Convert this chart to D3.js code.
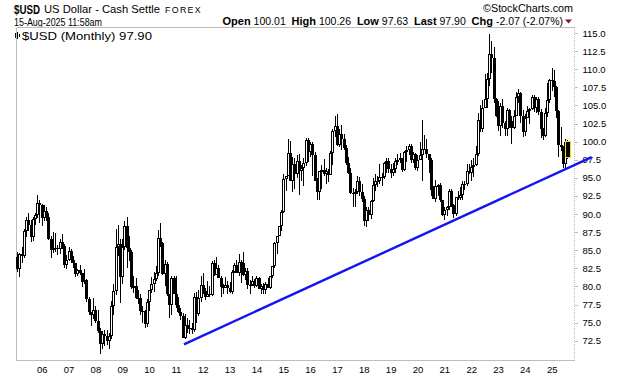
<!DOCTYPE html>
<html><head><meta charset="utf-8">
<script src="https://cdn.jsdelivr.net/npm/d3@7"></script>
<style>
html,body{margin:0;padding:0;background:#fff;}
svg{display:block;}
text{font-family:"Liberation Sans",Arial,sans-serif;fill:#000;}
</style></head>
<body>
<svg id="chart" width="620" height="376"></svg>
<script>
// Monthly $USD candles, first bar = Feb 2005, last bar = Aug 2025
const startYear = 2005, startMonth = 1; // 0-based month (Feb)
const opens = [
 84.0,82.4,84.5,84.2,87.7,89.2,88.5,86.8,89.3,89.8,91.5,
 91.2,89.4,90.4,89.6,86.6,85.0,85.3,85.3,85.2,86.1,85.6,82.9,
 83.7,84.9,83.7,83.2,81.7,82.3,81.9,80.6,80.9,78.2,76.4,76.0,
 76.7,75.2,73.8,72.0,73.4,73.1,72.5,73.2,77.3,79.4,85.4,85.9,
 81.3,85.4,88.3,85.3,84.8,79.9,80.1,78.4,78.4,76.6,76.6,74.8,
 77.9,79.5,80.3,81.0,81.9,86.7,86.0,81.7,83.1,78.9,77.5,81.2,
 79.0,77.4,76.5,75.9,72.9,74.6,74.3,74.2,74.0,78.6,76.2,78.4,
 80.2,79.3,78.6,79.0,78.8,83.2,81.6,82.6,81.2,79.9,79.8,80.2,
 79.8,79.2,82.0,82.9,81.9,83.4,83.2,81.6,82.1,80.2,80.2,80.7,
 80.0,81.2,79.7,80.1,79.5,80.4,79.8,81.5,82.8,86.0,86.9,88.4,
 90.3,94.8,95.3,98.4,94.6,96.9,95.5,97.3,95.9,96.3,97.0,100.2,
 98.6,99.6,98.2,94.6,93.1,95.9,96.1,95.5,96.0,95.4,98.4,101.5,
 102.2,99.5,101.1,100.4,99.1,97.0,95.6,92.9,92.7,93.1,94.5,93.0,
 92.1,89.1,90.6,89.9,91.8,94.0,94.5,94.5,95.1,95.1,97.1,97.3,
 96.2,95.6,96.2,97.3,97.5,97.8,96.1,98.5,98.9,99.4,97.4,98.3,
 96.4,97.4,98.1,99.0,99.0,98.3,97.4,93.3,92.1,93.9,94.0,91.9,
 89.9,90.6,90.9,93.2,91.3,90.0,92.4,92.2,92.6,94.2,94.1,96.0,
 95.7,96.5,96.7,98.3,103.0,101.8,104.7,105.9,108.7,112.1,111.5,105.9,
 103.5,102.1,104.9,102.5,101.7,104.3,102.9,101.9,103.6,106.2,106.7,103.5,
 101.3,103.3,104.2,104.5,106.2,104.6,105.9,104.1,101.7,100.8,104.0,105.7,
 108.5,108.4,107.6,104.2,99.5,99.3,96.9,100.01];
const highs = [
 84.7,84.6,85.5,87.9,89.6,90.2,89.2,89.6,90.2,92.6,92.0,
 91.4,91.3,91.0,90.2,86.9,87.5,87.4,85.7,86.6,87.3,85.9,84.4,
 85.4,85.1,84.2,83.3,82.4,83.0,81.9,82.4,81.0,78.5,76.5,78.4,
 77.3,76.8,74.2,73.8,74.0,74.0,73.5,78.0,80.4,87.9,88.5,86.5,
 86.5,89.0,89.6,86.9,85.0,81.5,81.1,79.5,78.9,77.3,76.8,78.3,
 79.5,81.3,82.0,82.8,87.8,88.7,86.2,83.7,83.4,78.9,81.5,81.4,
 81.4,78.5,77.0,76.3,76.2,75.7,75.4,75.0,79.1,79.2,79.5,81.5,
 81.8,79.8,80.7,80.0,83.5,83.6,84.1,83.0,81.5,80.4,81.3,80.8,
 80.6,82.2,83.2,83.6,84.5,83.6,84.8,82.6,82.5,80.9,81.5,81.0,
 81.5,81.3,80.4,80.5,80.6,81.1,81.5,82.8,86.1,87.0,88.4,90.5,
 95.5,95.3,100.4,100.1,97.9,97.8,98.1,98.3,96.8,97.8,100.5,100.5,
 99.9,99.9,98.6,95.0,95.9,96.7,97.6,96.3,96.2,98.7,101.8,103.6,
 103.8,101.8,102.3,101.1,99.5,97.9,96.3,93.6,93.5,95.2,95.1,94.2,
 92.5,91.0,90.9,91.9,95.0,95.5,95.2,96.9,95.7,97.2,97.7,97.7,
 96.9,97.0,97.7,98.3,98.4,97.8,98.7,99.4,99.7,99.7,98.5,98.4,
 98.2,99.9,103.0,100.9,100.4,98.3,97.8,93.9,94.7,94.1,94.3,91.9,
 91.0,91.1,93.4,93.4,91.4,92.4,93.2,93.7,94.5,94.5,96.9,96.9,
 97.4,97.8,99.4,103.9,105.0,105.8,109.3,109.5,114.8,113.9,113.1,106.0,
 105.6,105.4,105.9,102.8,104.7,104.5,103.6,104.4,106.8,107.3,106.9,104.3,
 103.8,104.9,104.7,106.5,106.5,106.1,106.1,104.5,101.9,104.6,108.1,108.6,
 110.2,109.9,107.7,104.4,102.0,99.4,100.3,100.26];
const lows = [
 82.0,81.3,83.3,83.9,86.8,87.7,86.2,86.3,88.5,89.4,88.8,
 88.3,89.1,89.1,86.4,83.9,84.6,84.8,84.4,84.5,85.2,82.6,82.4,
 83.5,83.3,82.6,81.3,81.4,81.6,79.9,80.3,77.9,76.1,74.5,75.5,
 75.0,73.6,70.7,71.3,71.7,71.9,71.3,72.7,76.0,78.8,84.2,77.7,
 80.3,85.0,82.6,83.5,79.6,79.1,78.2,77.6,76.0,74.9,74.2,74.4,
 76.6,79.1,79.2,80.8,81.5,85.4,81.6,80.1,78.7,75.6,76.1,78.9,
 77.0,76.3,75.3,72.9,72.7,73.6,73.4,73.4,73.7,74.9,75.9,77.9,
 78.9,78.1,78.5,78.6,78.7,81.4,81.6,81.2,78.6,78.9,79.8,79.0,
 79.1,78.9,81.8,81.8,81.5,80.5,81.4,80.9,79.6,79.0,80.1,79.8,
 79.9,79.7,79.0,78.9,78.9,79.8,79.7,81.2,82.6,84.5,86.9,87.6,
 90.1,93.2,95.2,94.5,93.1,93.5,95.0,92.6,94.5,93.8,96.6,97.2,
 97.9,95.2,94.6,91.9,91.9,93.4,95.3,94.1,94.4,95.4,96.7,100.6,
 99.4,99.2,98.9,98.8,96.8,95.5,92.8,91.0,91.0,92.8,92.5,91.7,
 88.4,88.25,89.0,89.3,91.7,93.2,93.7,94.1,93.8,94.8,95.7,95.7,
 95.0,95.2,95.7,96.8,97.0,95.8,95.9,97.2,98.1,97.1,97.1,96.1,
 96.0,97.4,94.6,98.8,97.8,95.7,92.5,92.1,91.7,92.5,91.7,89.7,
 89.2,89.7,90.6,90.9,89.5,89.7,91.9,92.0,91.9,93.3,93.9,95.5,
 94.6,95.1,96.6,98.0,101.3,101.3,104.7,104.6,107.7,109.5,105.3,103.4,
 101.5,100.8,101.9,100.8,100.8,101.9,99.6,101.7,103.6,105.4,102.5,100.6,
 100.8,103.2,102.4,104.4,104.1,104.0,103.7,100.5,100.2,100.6,103.4,105.4,
 107.0,106.1,103.2,97.9,98.7,96.4,96.4,97.63];
const closes = [
 82.4,84.5,84.2,87.7,89.2,88.5,86.8,89.3,89.8,91.5,91.2,
 89.4,90.4,89.6,86.6,85.0,85.3,85.3,85.2,86.1,85.6,82.9,83.7,
 84.9,83.7,83.2,81.7,82.3,81.9,80.6,80.9,78.2,76.4,76.0,76.7,
 75.2,73.8,72.0,73.4,73.1,72.5,73.2,77.3,79.4,85.4,85.9,81.3,
 85.4,88.3,85.3,84.8,79.9,80.1,78.4,78.4,76.6,76.6,74.8,77.9,
 79.5,80.3,81.0,81.9,86.7,86.0,81.7,83.1,78.9,77.5,81.2,79.0,
 77.4,76.5,75.9,72.9,74.6,74.3,74.2,74.0,78.6,76.2,78.4,80.2,
 79.3,78.6,79.0,78.8,83.2,81.6,82.6,81.2,79.9,79.8,80.2,79.8,
 79.2,82.0,82.9,81.9,83.4,83.2,81.6,82.1,80.2,80.2,80.7,80.0,
 81.2,79.7,80.1,79.5,80.4,79.8,81.5,82.8,86.0,86.9,88.4,90.3,
 94.8,95.3,98.4,94.6,96.9,95.5,97.3,95.9,96.3,97.0,100.2,98.6,
 99.6,98.2,94.6,93.1,95.9,96.1,95.5,96.0,95.4,98.4,101.5,102.2,
 99.5,101.1,100.4,99.1,97.0,95.6,92.9,92.7,93.1,94.5,93.0,92.1,
 89.1,90.6,89.9,91.8,94.0,94.5,94.5,95.1,95.1,97.1,97.3,96.2,
 95.6,96.2,97.3,97.5,97.8,96.1,98.5,98.9,99.4,97.4,98.3,96.4,
 97.4,98.1,99.0,99.0,98.3,97.4,93.3,92.1,93.9,94.0,91.9,89.9,
 90.6,90.9,93.2,91.3,90.0,92.4,92.2,92.6,94.2,94.1,96.0,95.7,
 96.5,96.7,98.3,103.0,101.8,104.7,105.9,108.7,112.1,111.5,105.9,103.5,
 102.1,104.9,102.5,101.7,104.3,102.9,101.9,103.6,106.2,106.7,103.5,101.3,
 103.3,104.2,104.5,106.2,104.6,105.9,104.1,101.7,100.8,104.0,105.7,108.5,
 108.4,107.6,104.2,99.5,99.3,96.9,99.97,97.90];

const yearTicks = [2006,2007,2008,2009,2010,2011,2012,2013,2014,2015,2016,2017,2018,2019,2020,2021,2022,2023,2024,2025];
const yearLabels = ["06","07","08","09","10","11","12","13","14","15","16","17","18","19","20","21","22","23","24","25"];
const priceTicks = [72.5,75,77.5,80,82.5,85,87.5,90,92.5,95,97.5,100,102.5,105,107.5,110,112.5,115];
// trendline anchor points (decimal year, value)
const trendYears = [2011.30, 2026.49];
const trendValues = [72.0, 97.86];

const svg = d3.select("#chart");
const L = 16.5, R = 574.5, T = 27.5, B = 360.5;
const x = d3.scaleLinear().domain([2006, 2025]).range([41.7, 551.7]);
const y = d3.scaleLinear().domain([72.5, 115]).range([340.7, 33]);

// header
const hdr = svg.append("g");
hdr.append("text").attr("x",14).attr("y",14).attr("font-weight","bold").attr("font-size",12.5)
  .attr("textLength",26).attr("lengthAdjust","spacingAndGlyphs").text("$USD");
hdr.append("text").attr("x",44).attr("y",13).attr("font-size",11)
  .attr("textLength",116).attr("lengthAdjust","spacingAndGlyphs").text("US Dollar - Cash Settle");
hdr.append("text").attr("x",165).attr("y",13).attr("font-size",9).attr("letter-spacing",1.4)
  .attr("textLength",37).attr("lengthAdjust","spacingAndGlyphs").text("FOREX");
hdr.append("text").attr("x",573).attr("y",12).attr("font-size",10).attr("text-anchor","end")
  .attr("textLength",90).attr("lengthAdjust","spacingAndGlyphs").attr("fill","#333").text("\u00A9StockCharts.com");
hdr.append("text").attr("x",14).attr("y",26).attr("font-size",10)
  .attr("textLength",88).attr("lengthAdjust","spacingAndGlyphs").text("15-Aug-2025 11:58am");

const n = closes.length;
const last = n - 1;
const chg = closes[last] - closes[last-1];
const pct = chg / closes[last-1] * 100;
const row2 = [
  {t:"Open", b:true}, {t:" " + opens[last].toFixed(2) + "  "},
  {t:"High", b:true}, {t:" " + highs[last].toFixed(2) + "  "},
  {t:"Low", b:true}, {t:" " + lows[last].toFixed(2) + "  "},
  {t:"Last", b:true}, {t:" " + closes[last].toFixed(2) + "  "},
  {t:"Chg", b:true}, {t:" " + chg.toFixed(2) + " (" + pct.toFixed(2) + "%)"}
];
const r2 = hdr.append("text").attr("x",563).attr("y",25).attr("text-anchor","end")
  .attr("font-size",10.5).attr("xml:space","preserve").style("white-space","pre");
row2.forEach(d=>{
  r2.append("tspan").attr("font-weight",d.b?"bold":"normal").attr("font-size",d.b?11:10.5).text(d.t);
});
hdr.append("path").attr("d","M565,19.5 L572,19.5 L568.5,23.5 Z").attr("fill","#8b1530");

// frame
const fr = svg.append("g").attr("stroke","#bdbdbd").attr("fill","none").attr("shape-rendering","crispEdges");
fr.append("line").attr("x1",L).attr("x2",R).attr("y1",T).attr("y2",T);
fr.append("line").attr("x1",L).attr("x2",L).attr("y1",T).attr("y2",B);
fr.append("line").attr("x1",L).attr("x2",R).attr("y1",B).attr("y2",B);
fr.append("line").attr("x1",R).attr("x2",R).attr("y1",T).attr("y2",B).attr("stroke-dasharray","1,1");

// right axis
const yAxis = d3.axisRight(y).tickValues(priceTicks).tickSize(3).tickPadding(5).tickFormat(d3.format(".1f"));
const ya = svg.append("g").attr("transform",`translate(${R},0)`).call(yAxis);
ya.select(".domain").remove();
ya.selectAll(".tick line").attr("stroke","#bdbdbd").attr("shape-rendering","crispEdges");
ya.selectAll(".tick text").attr("font-size",9.5).attr("font-family","Liberation Sans, Arial, sans-serif").attr("fill","#000");

// bottom axis
const xAxis = d3.axisBottom(x).tickValues(yearTicks).tickSize(0).tickPadding(6).tickFormat((d,i)=>yearLabels[i]);
const xa = svg.append("g").attr("transform",`translate(0,${B})`).call(xAxis);
xa.select(".domain").remove();
xa.selectAll(".tick text").attr("font-size",9.5).attr("font-family","Liberation Sans, Arial, sans-serif").attr("fill","#000");

// legend
const lg = svg.append("g");
[[15.5,33,38],[17.5,32,39],[19.5,34,37]].forEach(s=>{
  lg.append("line").attr("x1",s[0]).attr("x2",s[0]).attr("y1",s[1]).attr("y2",s[2]).attr("stroke","#000").attr("stroke-width",1);
});
lg.append("text").attr("x",22).attr("y",39.5).attr("font-family","DejaVu Sans Mono, monospace")
  .attr("font-size",10.5).attr("textLength",130).attr("lengthAdjust","spacingAndGlyphs")
  .text("$USD (Monthly) " + closes[last].toFixed(2));

// candles
const cg = svg.append("g").attr("shape-rendering","crispEdges");
for (let i = 0; i < n; i++) {
  const m = startMonth + i;
  const t = startYear + Math.floor(m/12) + (m%12)/12;
  const px = Math.round(x(t));
  const o = opens[i], c = closes[i];
  cg.append("line").attr("x1",px+0.5).attr("x2",px+0.5)
    .attr("y1",Math.round(y(highs[i]))).attr("y2",Math.round(y(lows[i])))
    .attr("stroke","#000").attr("stroke-width",1);
  const yt = Math.round(y(Math.max(o,c))), yb = Math.round(y(Math.min(o,c)));
  const h = Math.max(1, yb - yt);
  if (i === last) {
    cg.append("rect").attr("x",px-1.5).attr("y",yt-0.5).attr("width",5).attr("height",h+1)
      .attr("fill","#000").attr("stroke","#f0e000").attr("stroke-width",1);
  } else if (c > o) {
    cg.append("rect").attr("x",px-0.5).attr("y",yt+0.5).attr("width",2).attr("height",Math.max(1,h-1))
      .attr("fill","#fff").attr("stroke","#000").attr("stroke-width",1);
  } else {
    cg.append("rect").attr("x",px-1).attr("y",yt).attr("width",3).attr("height",h).attr("fill","#000");
  }
}

// trendline
svg.append("line")
  .attr("x1",x(trendYears[0])).attr("y1",y(trendValues[0]))
  .attr("x2",x(trendYears[1])).attr("y2",y(trendValues[1]))
  .attr("stroke","#1414f0").attr("stroke-width",2.4);
</script>
</body></html>
